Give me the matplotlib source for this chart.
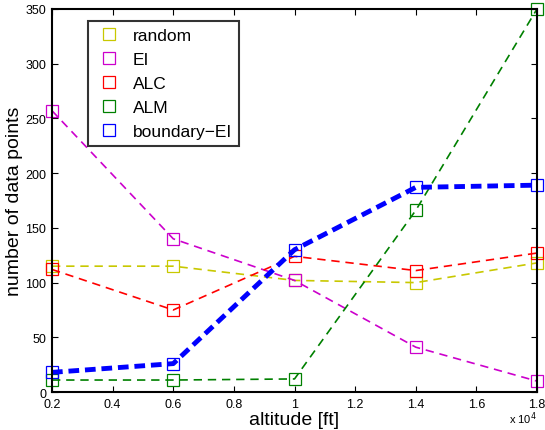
import matplotlib
matplotlib.use("Agg")
import matplotlib.pyplot as plt
from matplotlib.lines import Line2D

plt.rcParams['font.family'] = ['Liberation Sans', 'DejaVu Sans']

altitude = [0.2, 0.6, 1.0, 1.4, 1.8]  # x 10^4 ft
random_pts = [115, 115, 102, 100, 118]
ei_pts = [257, 140, 102, 41, 10]
alc_pts = [112, 75, 124, 111, 127]
alm_pts = [11, 11, 12, 166, 350]
bei_pts = [18, 26, 130, 187, 189]

series = [
    ("random", random_pts, "#c8c800", 1.2),
    ("EI", ei_pts, "#cc00cc", 1.2),
    ("ALC", alc_pts, "#ff0000", 1.2),
    ("ALM", alm_pts, "#008000", 1.2),
    ("boundary\u2212EI", bei_pts, "#0000ff", 3.5),
]

fig = plt.figure(figsize=(5.45, 4.31), dpi=100)
ax = fig.add_axes([0.0954, 0.088, 0.890, 0.889])

handles = []
for name, vals, col, lw in series:
    ax.plot(altitude, vals, linestyle=(0, (5, 3.5)) if lw < 2 else (0, (2.2, 1.2)),
            color=col, linewidth=lw,
            marker='s', markersize=8.5, markerfacecolor='none',
            markeredgecolor=col, markeredgewidth=0.9, clip_on=False)
    handles.append(Line2D([], [], linestyle='none', marker='s', markersize=8.5,
                          markerfacecolor='none', markeredgecolor=col,
                          markeredgewidth=0.9, label=name))

ax.set_xlim(0.2, 1.8)
ax.set_ylim(0, 350)
ax.set_xticks([0.2, 0.4, 0.6, 0.8, 1.0, 1.2, 1.4, 1.6, 1.8])
ax.set_xticklabels(['0.2', '0.4', '0.6', '0.8', '1', '1.2', '1.4', '1.6', '1.8'])
ax.set_yticks(range(0, 351, 50))
ax.tick_params(direction='in', top=True, right=True, labelsize=9, length=4,
               width=0.8, pad=4)
for s in ax.spines.values():
    s.set_linewidth(1.5)

ax.set_xlabel("altitude [ft]", fontsize=14, labelpad=1)
ax.set_ylabel("number of data points", fontsize=14, labelpad=2)
ax.text(1.0, -0.045, "x 10$^4$", transform=ax.transAxes, ha='right',
        va='top', fontsize=8)

leg = ax.legend(handles=handles, loc='upper left', bbox_to_anchor=(0.074, 0.968),
                fontsize=12.5, frameon=True, fancybox=False, borderpad=0.4,
                handletextpad=0.6, labelspacing=0.5, handlelength=1.6,
                borderaxespad=0)
leg.get_frame().set_edgecolor('black')
leg.get_frame().set_linewidth(1.5)

fig.savefig("out.png", dpi=100)
